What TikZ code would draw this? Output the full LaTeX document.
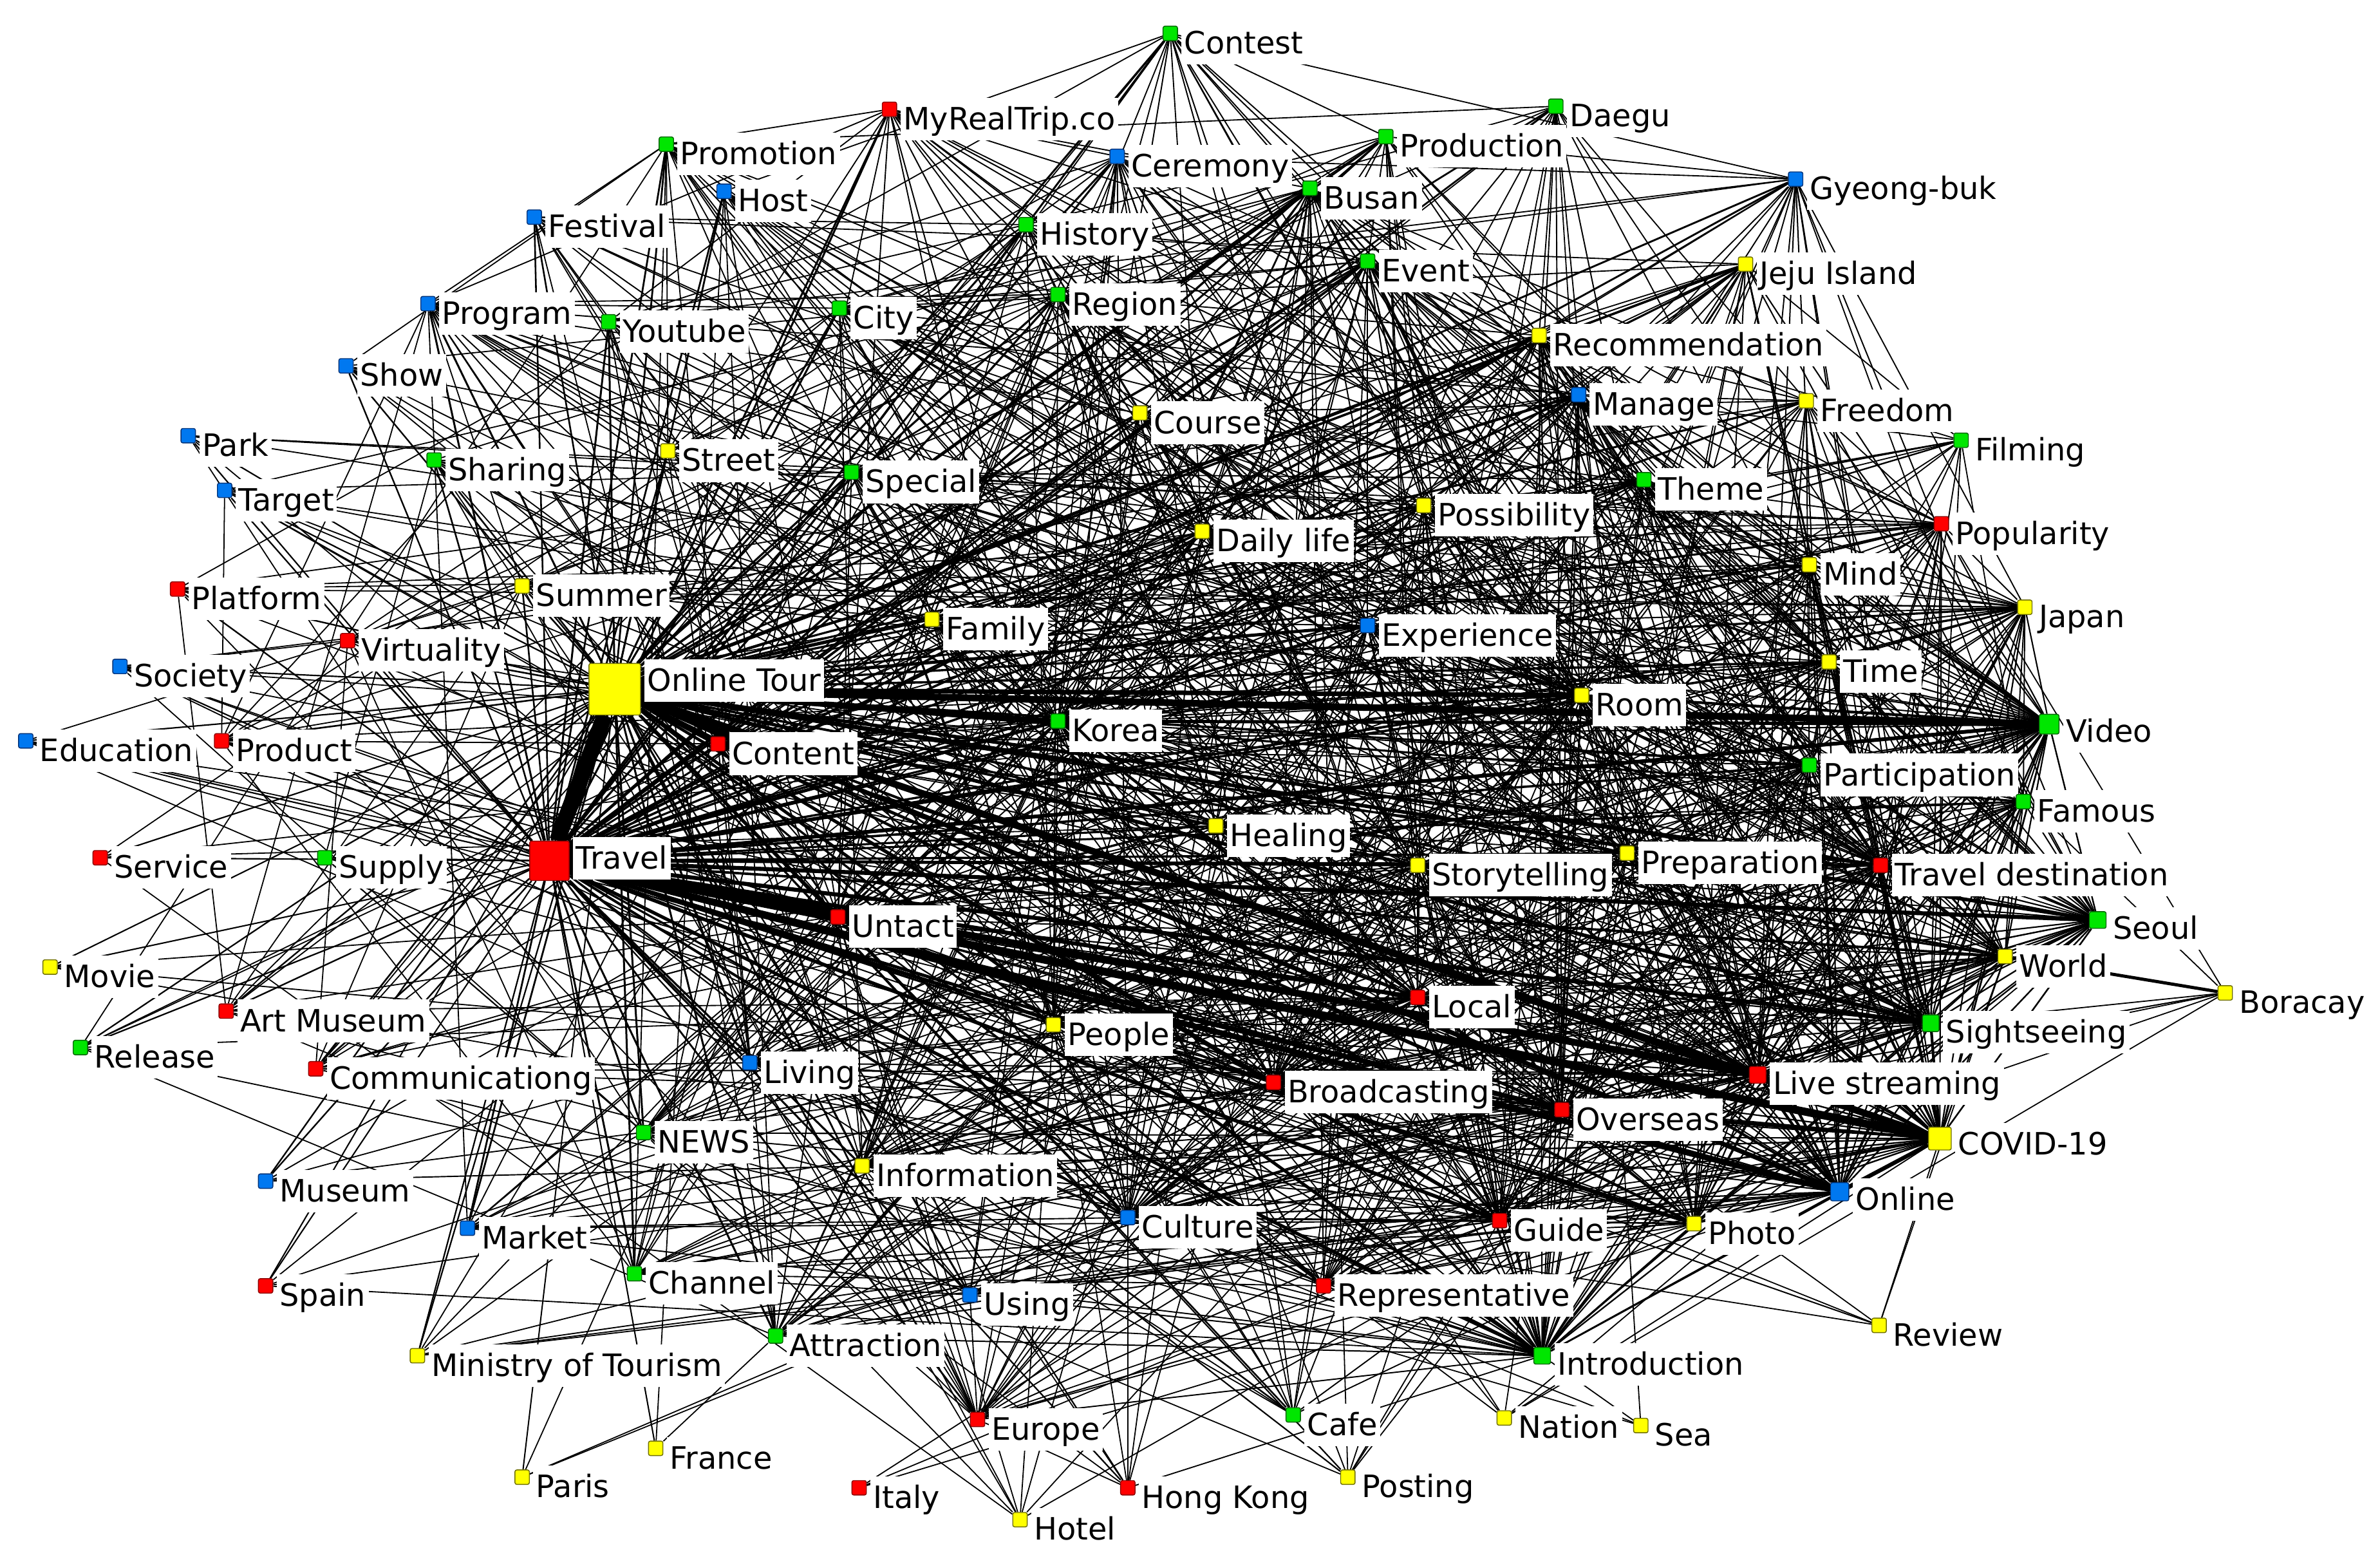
\documentclass[tikz,border=0pt]{standalone}
\usepackage{fontspec}
\setmainfont{DejaVu Sans}
\usetikzlibrary{calc}
\pgfdeclarelayer{bg}
\pgfsetlayers{bg,main}
\definecolor{kR}{RGB}{255,0,0}
\definecolor{kRd}{RGB}{140,0,0}
\definecolor{kY}{RGB}{255,255,0}
\definecolor{kYd}{RGB}{110,110,0}
\definecolor{kG}{RGB}{0,230,0}
\definecolor{kGd}{RGB}{0,100,0}
\definecolor{kB}{RGB}{0,120,240}
\definecolor{kBd}{RGB}{0,50,120}
\tikzset{
  sq/.style={draw, rounded corners=0.8pt, line width=0.4pt, inner sep=0pt},
  sqR/.style={fill=kR, draw=kRd},
  sqY/.style={fill=kY, draw=kYd},
  sqG/.style={fill=kG, draw=kGd},
  sqB/.style={fill=kB, draw=kBd},
  lbl/.style={anchor=base west, fill=white, inner xsep=1.3pt, inner ysep=1.1pt,
    text height=13pt, text depth=3.6pt, font=\fontsize{13.6}{16}\selectfont},
  lnk/.style={line width=#1, black},
}
\newcount\kwc
\newcommand\kw[7]{%
  \global\advance\kwc by 1
  \node[sq, sq#4, minimum width=#7*0.023578cm, minimum height=#7*0.023578cm, alias=#1] (n\the\kwc) at (#2,#3) {};
  \node[lbl] (l\the\kwc) at ($(n\the\kwc.north east)+(2,18.5)$) {#5};
  \expandafter\xdef\csname kx\the\kwc\endcsname{#2}%
  \expandafter\xdef\csname ky\the\kwc\endcsname{#3}%
  \expandafter\xdef\csname kk\the\kwc\endcsname{#6}%
}
\begin{document}
\begin{tikzpicture}[x=0.023578cm, y=-0.023578cm]
\useasboundingbox (0,0) rectangle (1568,1030);
\kw{CT}{771}{22}{G}{Contest}{30}{9.5}
\kw{MY}{586}{72}{R}{MyRealTrip.co}{30}{9.5}
\kw{DA}{1025}{70}{G}{Daegu}{25}{9.5}
\kw{PM}{439}{95}{G}{Promotion}{25}{9.5}
\kw{PD}{913}{90}{G}{Production}{30}{9.5}
\kw{CE}{736}{103}{B}{Ceremony}{30}{9.5}
\kw{HO}{477}{126}{B}{Host}{25}{9.5}
\kw{BU}{863}{124}{G}{Busan}{40}{9.5}
\kw{GB}{1183}{118}{B}{Gyeong-buk}{28}{9.5}
\kw{FE}{352}{143}{B}{Festival}{20}{9.5}
\kw{HI}{676}{148}{G}{History}{30}{9.5}
\kw{EV}{901}{172}{G}{Event}{45}{9.5}
\kw{JE}{1150}{174}{Y}{Jeju Island}{35}{9.5}
\kw{PG}{282}{200}{B}{Program}{30}{9.5}
\kw{YT}{401}{212}{G}{Youtube}{30}{9.5}
\kw{CI}{553}{203}{G}{City}{30}{9.5}
\kw{RG}{697}{194}{G}{Region}{35}{9.5}
\kw{RE}{1014}{221}{Y}{Recommendation}{45}{9.5}
\kw{SH}{228}{241}{B}{Show}{15}{9.5}
\kw{MA}{1040}{260}{B}{Manage}{45}{9.5}
\kw{FR}{1190}{264}{Y}{Freedom}{35}{9.5}
\kw{CR}{751}{272}{Y}{Course}{35}{9.5}
\kw{PK}{124}{287}{B}{Park}{10}{9.5}
\kw{SR}{286}{303}{G}{Sharing}{20}{9.5}
\kw{ST}{440}{297}{Y}{Street}{25}{9.5}
\kw{FI}{1292}{290}{G}{Filming}{15}{9.5}
\kw{SP}{561}{311}{G}{Special}{35}{9.5}
\kw{TH}{1083}{316}{G}{Theme}{40}{9.5}
\kw{TG}{148}{323}{B}{Target}{12}{9.5}
\kw{PS}{938}{333}{Y}{Possibility}{35}{9.5}
\kw{PO}{1279}{345}{R}{Popularity}{35}{9.5}
\kw{DL}{792}{350}{Y}{Daily life}{35}{9.5}
\kw{MI}{1192}{372}{Y}{Mind}{35}{9.5}
\kw{SU}{344}{386}{Y}{Summer}{20}{9.5}
\kw{PL}{117}{388}{R}{Platform}{15}{9.5}
\kw{JA}{1334}{400}{Y}{Japan}{40}{9.5}
\kw{FM}{614}{408}{Y}{Family}{30}{9.5}
\kw{EX}{901}{412}{B}{Experience}{50}{9.5}
\kw{VI}{229}{422}{R}{Virtuality}{20}{9.5}
\kw{SO}{79}{439}{B}{Society}{10}{9.5}
\kw{TI}{1205}{436}{Y}{Time}{45}{9.5}
\kw{OT}{405}{454}{Y}{Online Tour}{400}{34}
\kw{RM}{1042}{458}{Y}{Room}{50}{9.5}
\kw{KO}{697}{475}{G}{Korea}{70}{9.5}
\kw{VD}{1350}{477}{G}{Video}{90}{13}
\kw{CO}{473}{490}{R}{Content}{45}{9.5}
\kw{ED}{17}{488}{B}{Education}{10}{9.5}
\kw{PR}{146}{488}{R}{Product}{20}{9.5}
\kw{PA}{1192}{504}{G}{Participation}{45}{9.5}
\kw{FA}{1333}{528}{G}{Famous}{35}{9.5}
\kw{HE}{801}{544}{Y}{Healing}{35}{9.5}
\kw{SY}{934}{570}{Y}{Storytelling}{40}{9.5}
\kw{PP}{1072}{562}{Y}{Preparation}{40}{9.5}
\kw{SV}{66}{565}{R}{Service}{10}{9.5}
\kw{SUP}{214}{565}{G}{Supply}{15}{9.5}
\kw{TR}{362}{567}{R}{Travel}{400}{26}
\kw{TD}{1239}{570}{R}{Travel destination}{60}{9.5}
\kw{UN}{552}{604}{R}{Untact}{50}{9.5}
\kw{SE}{1382}{606}{G}{Seoul}{70}{11}
\kw{WO}{1321}{630}{Y}{World}{50}{9.5}
\kw{MV}{33}{637}{Y}{Movie}{8}{9.5}
\kw{BO}{1466}{654}{Y}{Boracay}{8}{9.5}
\kw{LO}{934}{657}{R}{Local}{55}{9.5}
\kw{AM}{149}{666}{R}{Art Museum}{15}{9.5}
\kw{PE}{694}{675}{Y}{People}{40}{9.5}
\kw{RL}{53}{690}{G}{Release}{12}{9.5}
\kw{SS}{1272}{674}{G}{Sightseeing}{75}{11}
\kw{CM}{208}{704}{R}{Communicationg}{20}{9.5}
\kw{LV}{494}{700}{B}{Living}{35}{9.5}
\kw{BR}{839}{713}{R}{Broadcasting}{50}{9.5}
\kw{LS}{1158}{708}{R}{Live streaming}{85}{11}
\kw{OV}{1029}{731}{R}{Overseas}{65}{9.5}
\kw{NE}{424}{746}{G}{NEWS}{30}{9.5}
\kw{CV}{1278}{750}{Y}{COVID-19}{110}{15}
\kw{IF}{568}{768}{Y}{Information}{35}{9.5}
\kw{MU}{175}{778}{B}{Museum}{15}{9.5}
\kw{ON}{1212}{785}{B}{Online}{90}{12}
\kw{CU}{743}{802}{B}{Culture}{55}{9.5}
\kw{MK}{308}{809}{B}{Market}{25}{9.5}
\kw{GU}{988}{804}{R}{Guide}{60}{9.5}
\kw{PH}{1116}{806}{Y}{Photo}{60}{9.5}
\kw{CH}{418}{839}{G}{Channel}{30}{9.5}
\kw{SPN}{175}{847}{R}{Spain}{8}{9.5}
\kw{RP}{872}{847}{R}{Representative}{35}{9.5}
\kw{US}{639}{853}{B}{Using}{30}{9.5}
\kw{RV}{1238}{873}{Y}{Review}{6}{9.5}
\kw{AT}{511}{880}{G}{Attraction}{30}{9.5}
\kw{MT}{275}{893}{Y}{Ministry of Tourism}{12}{9.5}
\kw{IN}{1016}{893}{G}{Introduction}{75}{11}
\kw{CA}{852}{932}{G}{Cafe}{20}{9.5}
\kw{EU}{644}{935}{R}{Europe}{25}{9.5}
\kw{NA}{991}{934}{Y}{Nation}{8}{9.5}
\kw{SEA}{1081}{939}{Y}{Sea}{8}{9.5}
\kw{FRA}{432}{954}{Y}{France}{8}{9.5}
\kw{PAR}{344}{973}{Y}{Paris}{6}{9.5}
\kw{POS}{888}{973}{Y}{Posting}{10}{9.5}
\kw{IT}{566}{980}{R}{Italy}{6}{9.5}
\kw{HK}{743}{980}{R}{Hong Kong}{12}{9.5}
\kw{HT}{672}{1001}{Y}{Hotel}{6}{9.5}
\begin{pgfonlayer}{bg}
\pgfmathsetseed{12345}
\foreach \i in {1,...,98}{%
  \pgfmathtruncatemacro\jst{\i+1}%
  \foreach \j in {\jst,...,99}{%
    \pgfmathsetmacro\sw{\csname kk\i\endcsname/64*\csname kk\j\endcsname/64}%
    \pgfmathsetmacro\pp{\sw*1.65*exp(-veclen((\csname kx\i\endcsname-\csname kx\j\endcsname)/100,(\csname ky\i\endcsname-\csname ky\j\endcsname)/100)/10)}%
    \pgfmathsetmacro\rr{rnd}%
    \ifdim\rr pt<\pp pt
      \pgfmathsetmacro\lw{min(1.9,0.5+0.12*\sw)}%
      \draw[lnk=\lw pt] (n\i) -- (n\j);
    \fi
  }%
}
\draw[lnk=7pt] (OT) -- (TR);
\draw[lnk=3.5pt] (TR) -- (CV);
\draw[lnk=3pt] (OT) -- (CV);
\draw[lnk=3pt] (TR) -- (LS);
\draw[lnk=3pt] (OT) -- (VD);
\draw[lnk=2.5pt] (TR) -- (ON);
\draw[lnk=2.2pt] (OT) -- (LS);
\draw[lnk=2.2pt] (TR) -- (OV);
\draw[lnk=2.5pt] (TR) -- (UN);
\draw[lnk=2.2pt] (OT) -- (CO);
\draw[lnk=2pt] (OT) -- (ON);
\draw[lnk=2pt] (OT) -- (KO);
\draw[lnk=2pt] (OT) -- (RM);
\draw[lnk=1.8pt] (TR) -- (SS);
\draw[lnk=1.8pt] (TR) -- (SE);
\draw[lnk=1.8pt] (TR) -- (LO);
\draw[lnk=1.6pt] (TR) -- (GU);
\draw[lnk=1.6pt] (TR) -- (PH);
\draw[lnk=1.6pt] (OT) -- (SE);
\draw[lnk=1.6pt] (OT) -- (SS);
\draw[lnk=1.5pt] (OT) -- (TD);
\draw[lnk=1.4pt] (OT) -- (EX);
\draw[lnk=1.6pt] (TR) -- (VD);
\draw[lnk=1.4pt] (TR) -- (KO);
\draw[lnk=1.8pt] (CV) -- (LS);
\draw[lnk=1.8pt] (CV) -- (ON);
\draw[lnk=1.2pt] (CV) -- (SS);
\draw[lnk=1.2pt] (CV) -- (OV);
\draw[lnk=1.4pt] (VD) -- (KO);
\draw[lnk=1.2pt] (VD) -- (RM);
\draw[lnk=1.2pt] (LS) -- (ON);
\draw[lnk=1.4pt] (WO) -- (BO);
\draw[lnk=1.4pt] (OT) -- (RE);
\draw[lnk=1.2pt] (OT) -- (MA);
\draw[lnk=1pt] (OT) -- (JE);
\draw[lnk=1.4pt] (TR) -- (BR);
\draw[lnk=1.4pt] (TR) -- (IN);
\end{pgfonlayer}
\end{tikzpicture}
\end{document}
